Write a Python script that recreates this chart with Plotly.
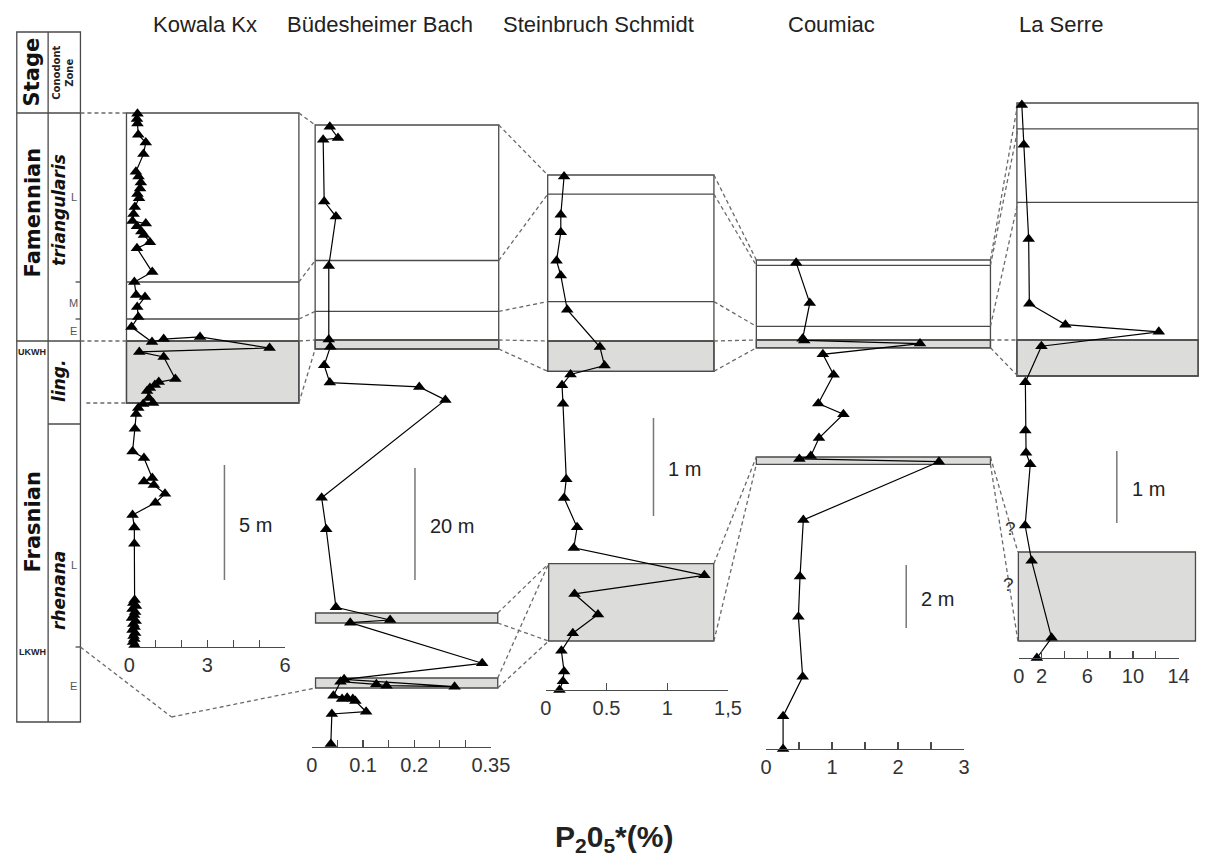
import plotly.graph_objects as go

W, H = 1223, 868
def X(p): return p / W
def Y(p): return 1 - p / H

# ---------------- data (P2O5* in %, height above section base in m) ----------------
sections = ["Kowala Kx", "Büdesheimer Bach", "Steinbruch Schmidt", "Coumiac", "La Serre"]

kowala_p2o5 = [0.31, 0.29, 0.31, 0.34, 0.63, 0.54, 0.25, 0.35, 0.44, 0.41, 0.31, 0.37, 0.21, 0.16, 0.12,
               0.63, 0.29, 0.46, 0.56, 0.79, 0.29, 0.88,
               0.19, 0.26, 0.6, 0.3, 0.34, 0.08, 0.87, 1.32, 2.72, 5.4, 0.38, 1.32, 1.77, 1.13, 0.98,
               0.79, 0.68, 0.75, 0.91, 0.53, 0.34, 0.26,
               0.21, 0.12, 0.56, 0.88, 0.56, 0.94, 1.37, 1.0, 0.12, 0.19, 0.19,
               0.2, 0.15, 0.25, 0.12, 0.22, 0.18, 0.1, 0.24, 0.15, 0.2, 0.12, 0.22, 0.16, 0.19, 0.14, 0.2]
kowala_height = [23.19, 22.96, 22.76, 22.27, 21.93, 21.43, 20.66, 20.46, 20.2, 19.94, 19.7, 19.51, 19.13, 18.83, 18.52,
                 18.41, 18.29, 18.06, 17.91, 17.6, 17.34, 16.3,
                 15.87, 15.3, 15.22, 14.78, 14.35, 13.91, 13.26, 13.39, 13.48, 13.0, 12.83, 12.61, 11.65, 11.52, 11.39,
                 11.26, 11.13, 10.83, 10.61, 10.57, 10.39, 10.13,
                 9.49, 8.5, 8.22, 7.35, 7.2, 7.04, 6.66, 6.27, 5.74, 5.2, 4.49,
                 2.04, 1.91, 1.78, 1.65, 1.52, 1.39, 1.26, 1.13, 1.0, 0.87, 0.74, 0.61, 0.48, 0.35, 0.22, 0.09]

bud_p2o5 = [0.035, 0.051, 0.022, 0.024, 0.047, 0.033, 0.033, 0.036, 0.024, 0.035, 0.21, 0.261, 0.019, 0.028,
            0.047, 0.153, 0.075, 0.333, 0.063, 0.279, 0.146, 0.126, 0.056, 0.042, 0.069, 0.059, 0.080, 0.085,
            0.106, 0.039, 0.037]
bud_height = [110.77, 108.75, 108.45, 97.43, 94.73, 85.88, 72.79, 71.46, 68.16, 65.07, 64.3, 61.98, 44.5, 38.88,
              24.95, 22.68, 22.2, 14.95, 12.09, 10.77, 10.95, 11.2, 11.66, 9.16, 8.8, 8.57, 8.57, 8.21,
              6.3, 5.89, 0.54]

stein_p2o5 = [0.151, 0.124, 0.124, 0.089, 0.124, 0.177, 0.446, 0.484, 0.204, 0.134, 0.142, 0.169, 0.151, 0.258,
              0.231, 1.306, 0.237, 0.43, 0.223, 0.129, 0.151, 0.142, 0.113]
stein_height = [5.24, 4.85, 4.67, 4.38, 4.23, 3.88, 3.5, 3.31, 3.22, 3.11, 2.92, 2.15, 1.96, 1.66,
                1.45, 1.17, 0.98, 0.77, 0.58, 0.4, 0.19, 0.09, 0.0]

coum_p2o5 = [0.455, 0.662, 0.553, 0.578, 2.333, 0.86, 1.023, 0.791, 1.172, 0.801, 0.677, 0.504, 2.62, 0.564,
             0.514, 0.489, 0.554, 0.257, 0.257]
coum_height = [15.44, 14.16, 13.02, 12.97, 12.87, 12.53, 11.88, 10.97, 10.63, 9.87, 9.3, 9.21, 9.12, 7.27,
               5.48, 4.2, 2.29, 1.04, 0.0]

serre_p2o5 = [0.26, 0.43, 0.86, 0.92, 4.08, 12.27, 1.98, 0.57, 0.57, 0.63, 1.0, 0.55, 1.12, 2.87, 1.58]
serre_height = [7.68, 7.13, 5.82, 4.92, 4.63, 4.53, 4.33, 3.83, 3.16, 2.85, 2.69, 1.84, 1.35, 0.28, 0.0]

# labelled ticks and unlabelled (minor) ticks of each P2O5 axis
kowala_ticks, kowala_labels, kowala_minor = [0, 3, 6], ["0", "3", "6"], [1, 2, 4, 5]
bud_ticks, bud_labels, bud_minor = [0, 0.1, 0.2, 0.35], ["0", "0.1", "0.2", "0.35"], [0.05, 0.15, 0.25, 0.3]
stein_ticks, stein_labels, stein_minor = [0, 0.5, 1, 1.5], ["0", "0.5", "1", "1,5"], []
coum_ticks, coum_labels, coum_minor = [0, 1, 2, 3], ["0", "1", "2", "3"], [0.5, 1.5, 2.5]
serre_ticks, serre_labels, serre_minor = [0, 2, 6, 10, 14], ["0", "2", "6", "10", "14"], [4, 8, 12]

scale_labels = ["5 m", "20 m", "1 m", "2 m", "1 m"]

# ---------------- layout geometry (pixels) ----------------
panels = [
    dict(x0=126, x1=285, y0=647, k=23.0, xs=kowala_p2o5, ys=kowala_height, tv=kowala_ticks, tt=kowala_labels, mv=kowala_minor),
    dict(x0=312.3, x1=495, y0=747, k=5.6, xs=bud_p2o5, ys=bud_height, tv=bud_ticks, tt=bud_labels, mv=bud_minor),
    dict(x0=551, x1=737, y0=690, k=98.0, xs=stein_p2o5, ys=stein_height, tv=stein_ticks, tt=stein_labels, mv=stein_minor),
    dict(x0=776, x1=978, y0=749, k=31.5, xs=coum_p2o5, ys=coum_height, tv=coum_ticks, tt=coum_labels, mv=coum_minor),
    dict(x0=1034, x1=1197, y0=658, k=72.0, xs=serre_p2o5, ys=serre_height, tv=serre_ticks, tt=serre_labels, mv=serre_minor),
]
title_x = [203, 382, 605, 843, 1077]

FONT = "Liberation Sans, Arial, sans-serif"
BOLD = "DejaVu Sans, Arial, sans-serif"
LINE = "#4a4a4a"
DASH = "#6a6a6a"
GREY = "#dcdcda"

fig = go.Figure()
layout = dict(width=W, height=H, margin=dict(l=0, r=0, t=0, b=0),
              paper_bgcolor="white", plot_bgcolor="rgba(0,0,0,0)", showlegend=False)

for i, p in enumerate(panels, start=1):
    sfx = "" if i == 1 else str(i)
    fig.add_trace(go.Scatter(x=p["xs"], y=p["ys"], xaxis="x" + sfx, yaxis="y" + sfx,
                             mode="lines+markers", cliponaxis=False,
                             line=dict(color="black", width=1.2),
                             marker=dict(symbol="triangle-up", size=11, color="black"),
                             hoverinfo="skip"))
    xmax = max(p["tv"] + p["mv"])
    ax = dict(domain=[X(p["x0"]), X(p["x1"])], range=[0, xmax], anchor="free",
              position=Y(p["y0"]), showline=True, linecolor=LINE, linewidth=1.3,
              ticks="inside", ticklen=7, tickwidth=1.3, tickcolor=LINE,
              tickmode="array", tickvals=p["tv"], ticktext=p["tt"], showgrid=False, zeroline=False,
              tickfont=dict(family=FONT, size=20, color="#333"), fixedrange=True)
    if p["mv"]:
        ax["minor"] = dict(tickmode="array", tickvals=p["mv"], ticks="inside", ticklen=7, tickwidth=1.3,
                           tickcolor=LINE, showgrid=False)
    layout["xaxis" + sfx] = ax
    layout["yaxis" + sfx] = dict(domain=[0, 1], range=[(p["y0"] - H) / p["k"], p["y0"] / p["k"]],
                                 anchor="x" + sfx, visible=False, fixedrange=True)

shapes = []
def line(x0, y0, x1, y1, color=LINE, width=1.3, dash="solid"):
    shapes.append(dict(type="line", xref="paper", yref="paper", x0=X(x0), y0=Y(y0), x1=X(x1), y1=Y(y1),
                       line=dict(color=color, width=width, dash=dash), layer="below"))
def rect(x0, y0, x1, y1, fill=None):
    shapes.append(dict(type="rect", xref="paper", yref="paper", x0=X(x0), y0=Y(y0), x1=X(x1), y1=Y(y1),
                       line=dict(color=LINE, width=1.3), fillcolor=fill if fill else "rgba(0,0,0,0)",
                       layer="below"))
def dashed(*pts):
    for a, b in zip(pts[:-1], pts[1:]):
        line(a[0], a[1], b[0], b[1], color=DASH, width=1.3, dash="4px,3px")

# stratigraphic column
rect(11, 32, 76, 722)
line(43, 32, 43, 722)
line(11, 113, 76, 113)
line(11, 341, 76, 341)
line(43, 424, 76, 424)
for ty in (282, 319, 647):
    line(71, ty, 76, ty)

boxes = [
    (123, 299, 113, [282, 319], 341, 403),
    (315.6, 503, 125, [260.5, 311.4], 340, 349),
    (553, 722.7, 175, [194.2, 301.6], 341, 371.3),
    (766, 1005, 260, [265.4, 326.3], 340, 347.8),
    (1032, 1217, 103, [128.8, 202.3], 340, 376),
]
for (l, r, t, inner, uk, gb) in boxes:
    rect(l, uk, r, gb, fill=GREY)
    rect(l, t, r, gb)
    for yy in inner:
        line(l, yy, r, yy)
    line(l, uk, r, uk)
rect(316, 613, 502, 623, fill=GREY)
rect(316, 678, 502, 688, fill=GREY)
rect(554, 563.6, 722.5, 641, fill=GREY)
rect(766, 457, 1005, 464.3, fill=GREY)
rect(1033.5, 552, 1214.3, 641, fill=GREY)

dashed((76, 113), (123, 113)); dashed((76, 341), (123, 341)); dashed((82, 403), (123, 403))
dashed((76, 647), (169, 717), (315.6, 688))
for a, b in [(113, 125), (282, 260.5), (319, 311.4), (341, 340), (403, 349)]:
    dashed((299, a), (315.6, b))
for a, b in [(125, 175), (260.5, 194.2), (311.4, 301.6), (340, 341), (349, 371.3)]:
    dashed((503, a), (553, b))
for a, b in [(613, 563.6), (623, 641), (678, 563.6), (688, 641)]:
    dashed((502, a), (554, b))
for a, b in [(175, 260), (194.2, 265.4), (301.6, 326.3), (341, 340), (371.3, 347.8), (563.6, 457), (641, 464.3)]:
    dashed((722.7, a), (766, b))
for a, b in [(260, 103), (265.4, 128.8), (326.3, 202.3), (340, 340), (347.8, 376), (457, 552), (464.3, 641)]:
    dashed((1005, a), (1033, b))

bars = [(223, 465, 580), (417.5, 468, 580), (661, 418, 516), (919, 565, 628), (1134, 451, 523)]
for bx, bt, bb in bars:
    line(bx, bt, bx, bb, color="#777", width=1.5)

ann = []
def text(x, y, s, size, family=FONT, color="#222", angle=0, xanchor="center", bold=False, italic=False):
    if bold:
        s = "<b>" + s + "</b>"
    if italic:
        s = "<i>" + s + "</i>"
    ann.append(dict(x=X(x), y=Y(y), xref="paper", yref="paper", text=s, showarrow=False,
                    font=dict(family=family, size=size, color=color), textangle=angle,
                    xanchor=xanchor, yanchor="middle"))

for name, tx in zip(sections, title_x):
    text(tx, 25, name, 22)
for lab, (bx, bt, bb) in zip(scale_labels, bars):
    text(bx + 13, (bt + bb) / 2 + 2, lab, 20, xanchor="left")

text(27, 72, "Stage", 21, family=BOLD, angle=-90, bold=True, color="#111")
text(58, 73, "Conodont<br>Zone", 10, family=BOLD, angle=-90, bold=True, color="#222")
text(28, 212, "Famennian", 21, family=BOLD, angle=-90, bold=True, color="#111")
text(28, 522, "Frasnian", 21, family=BOLD, angle=-90, bold=True, color="#111")
text(54, 210, "triangularis", 17, family=BOLD, angle=-90, bold=True, italic=True, color="#111")
text(54, 381, "ling.", 17, family=BOLD, angle=-90, bold=True, italic=True, color="#111")
text(54, 590, "rhenana", 17, family=BOLD, angle=-90, bold=True, italic=True, color="#111")
for lx, ly, s in [(69, 197, "L"), (69, 303, "M"), (69, 331, "E"), (69, 565, "L"), (69, 686, "E")]:
    text(lx, ly, s, 11, color="#555")
text(27, 352, "UKWH", 9, bold=True, color="#222")
text(27, 652, "LKWH", 9, bold=True, color="#222")
text(1025, 528, "?", 19, color="#333")
text(1023, 584, "?", 19, color="#333")
text(621, 838, "P<sub>2</sub>0<sub>5</sub>*(%)", 30, bold=True, color="#222")

layout["shapes"] = shapes
layout["annotations"] = ann
fig.update_layout(**layout)
fig.write_html("out.html", config={"displayModeBar": False, "staticPlot": True},
               post_script="document.body.style.margin='0';document.body.style.overflow='hidden';")
